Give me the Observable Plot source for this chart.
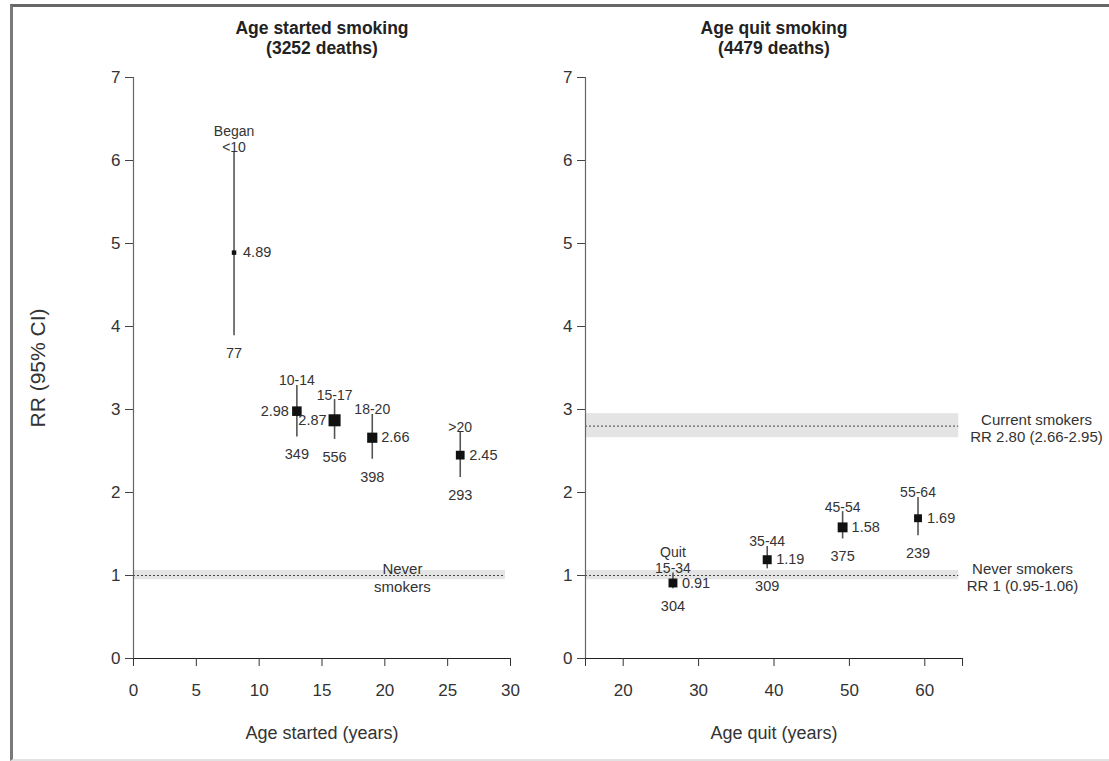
<!DOCTYPE html>
<html>
<head>
<meta charset="utf-8">
<script src="https://cdn.jsdelivr.net/npm/d3@7"></script>
<script src="https://cdn.jsdelivr.net/npm/@observablehq/plot@0.6"></script>
<style>
html, body { margin: 0; padding: 0; background: #fff; }
#wrap { position: relative; width: 1109px; height: 761px; overflow: hidden; }
#frame { position: absolute; left: 10px; top: 4px; width: 1200px; height: 752px;
  border-left: 3px solid #7a7a7a; border-top: 3px solid #666; border-bottom: 2px solid #e2e2e2; }
#left, #right { position: absolute; top: 0; }
#left { left: 0; }
#right { left: 555px; }
</style>
</head>
<body>
<div id="wrap"><div id="frame"></div><div id="left"></div><div id="right"></div></div>
<script>
// ---- Data: age started smoking ----
const startedGroups = ["Began\n<10", "10-14", "15-17", "18-20", ">20"];
const startedAge    = [8, 13, 16, 19, 26];
const startedRR     = [4.89, 2.98, 2.87, 2.66, 2.45];
const startedLo     = [3.89, 2.67, 2.64, 2.40, 2.18];
const startedHi     = [6.10, 3.29, 3.12, 2.94, 2.73];
const startedDeaths = [77, 349, 556, 398, 293];
const startedTotal  = 3252;

// ---- Data: age quit smoking ----
const quitGroups = ["Quit\n15-34", "35-44", "45-54", "55-64"];
const quitAge    = [26.6, 39.1, 49.1, 59.1];
const quitRR     = [0.91, 1.19, 1.58, 1.69];
const quitLo     = [0.84, 1.08, 1.44, 1.48];
const quitHi     = [1.03, 1.35, 1.77, 1.94];
const quitDeaths = [304, 309, 375, 239];
const quitTotal  = 4479;

// ---- Reference groups ----
const neverRR = 1,    neverLo = 0.95,  neverHi = 1.06;
const currentRR = 2.80, currentLo = 2.66, currentHi = 2.95;

// ---- Axis ticks ----
const yTicks = [0, 1, 2, 3, 4, 5, 6, 7];
const startedXTicks = [0, 5, 10, 15, 20, 25, 30];
const quitXTicks = [15, 20, 30, 40, 50, 60, 65];
const quitXLabels = [20, 30, 40, 50, 60];

// ---- Build tables ----
const started = startedGroups.map((g, i) => ({group: g, age: startedAge[i], rr: startedRR[i], lo: startedLo[i], hi: startedHi[i], deaths: startedDeaths[i]}));
const quit = quitGroups.map((g, i) => ({group: g, age: quitAge[i], rr: quitRR[i], lo: quitLo[i], hi: quitHi[i], deaths: quitDeaths[i]}));
const leftLabelled = new Set(["10-14", "15-17"]);

const FONT = '"Liberation Sans", Arial, Helvetica, sans-serif';
const TXT = "#333";
const rScale = {type: "sqrt", domain: [0, 556], range: [0, 6.8]};
const common = {
  height: 761, marginTop: 77, marginBottom: 103,
  y: {domain: [0, 7]},
  r: rScale,
  style: {fontFamily: FONT, fontSize: "14px", color: TXT, background: "transparent", overflow: "visible"}
};

function panelMarks(data, xMin, xMax, bandEnd, xTicks, labelFn, title, xTitle) {
  return [
    Plot.rect([neverRR], {x1: xMin, x2: bandEnd, y1: neverLo, y2: neverHi, fill: "#e4e4e4"}),
    Plot.ruleY([neverRR], {x1: xMin, x2: bandEnd, stroke: "#444", strokeWidth: 1, strokeDasharray: "2,2"}),
    Plot.ruleX([xMin], {y1: 0, y2: 7, stroke: "#666", strokeWidth: 1.2}),
    Plot.ruleY([0], {x1: xMin, x2: xMax, stroke: "#222", strokeWidth: 1.2}),
    Plot.axisY({ticks: yTicks, tickSize: 8, tickPadding: 5, fontSize: 17, label: null, tickFormat: d => String(d), stroke: "#444"}),
    Plot.axisX({ticks: xTicks, tickSize: 8, tickPadding: 17, fontSize: 17, label: null, tickFormat: labelFn, stroke: "#333"}),
    Plot.ruleX(data, {x: "age", y1: "lo", y2: "hi", stroke: "#555", strokeWidth: 1.6}),
    Plot.dot(data, {x: "age", y: "rr", r: "deaths", symbol: "square", fill: "#111", stroke: null}),
    Plot.text(data.filter(d => !leftLabelled.has(d.group)), {x: "age", y: "rr", text: d => d.rr.toFixed(2), dx: 9, textAnchor: "start", fontSize: 14.5, fill: TXT}),
    Plot.text(data.filter(d => leftLabelled.has(d.group)), {x: "age", y: "rr", text: d => d.rr.toFixed(2), dx: -8, textAnchor: "end", fontSize: 14.5, fill: TXT}),
    Plot.text(data, {x: "age", y: "hi", text: "group", lineAnchor: "bottom", dy: 0, fontSize: 14, lineHeight: 1.15, fill: TXT}),
    Plot.text(data, {x: "age", y: "lo", text: d => String(d.deaths), lineAnchor: "top", dy: 12, fontSize: 14.5, fill: TXT}),
    Plot.text([title], {frameAnchor: "top", dy: -57, lineAnchor: "top", fontWeight: "bold", fontSize: 17.5, lineHeight: 1.12, fill: "#222"}),
    Plot.text([xTitle], {frameAnchor: "bottom", dy: 80, fontSize: 18, fill: TXT})
  ];
}

const left = Plot.plot({
  ...common,
  width: 555, marginLeft: 133, marginRight: 45,
  x: {domain: [0, 30]},
  marks: [
    ...panelMarks(started, 0, 30, 29.6, startedXTicks, d => String(d),
      `Age started smoking\n(${startedTotal} deaths)`, "Age started (years)"),
    Plot.text(["Never\nsmokers"], {x: 21.4, y: neverRR, lineAnchor: "middle", dy: 2, fontSize: 15, lineHeight: 1.2, fill: TXT}),
    Plot.text(["RR (95% CI)"], {frameAnchor: "left", textAnchor: "middle", dx: -95, rotate: -90, fontSize: 21, fill: TXT})
  ]
});

const right = Plot.plot({
  ...common,
  width: 554, marginLeft: 30, marginRight: 147,
  x: {domain: [15, 65]},
  marks: [
    Plot.rect([currentRR], {x1: 15, x2: 64.5, y1: currentLo, y2: currentHi, fill: "#e4e4e4"}),
    Plot.ruleY([currentRR], {x1: 15, x2: 64.5, stroke: "#444", strokeWidth: 1, strokeDasharray: "2,2"}),
    ...panelMarks(quit, 15, 65, 64.5, quitXTicks, d => quitXLabels.includes(d) ? String(d) : "",
      `Age quit smoking\n(${quitTotal} deaths)`, "Age quit (years)"),
    Plot.text([`Current smokers\nRR ${currentRR.toFixed(2)} (${currentLo.toFixed(2)}-${currentHi.toFixed(2)})`],
      {x: 65, y: currentRR, dx: 74, dy: 2, lineAnchor: "middle", fontSize: 15, lineHeight: 1.13, fill: TXT}),
    Plot.text([`Never smokers\nRR ${neverRR} (${neverLo.toFixed(2)}-${neverHi.toFixed(2)})`],
      {x: 65, y: neverRR, dx: 60, dy: 2, lineAnchor: "middle", fontSize: 15, lineHeight: 1.13, fill: TXT})
  ]
});

document.getElementById("left").appendChild(left);
document.getElementById("right").appendChild(right);
</script>
</body>
</html>
